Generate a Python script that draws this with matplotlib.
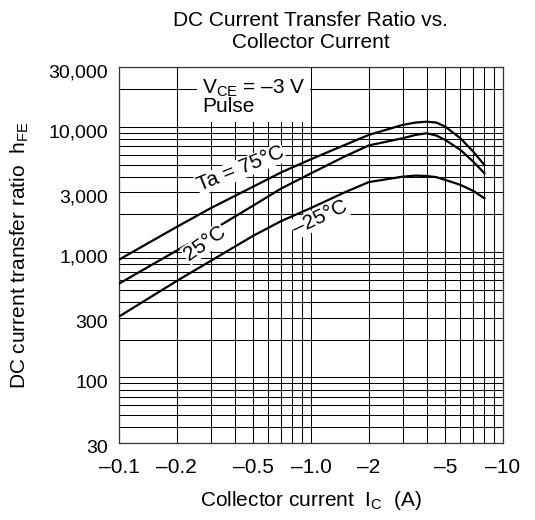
import numpy as np
import matplotlib
matplotlib.use('Agg')
import matplotlib.pyplot as plt
from matplotlib.patches import Rectangle
from matplotlib.transforms import ScaledTranslation

plt.rcParams['font.family'] = ['Liberation Sans', 'DejaVu Sans']
plt.rcParams['font.size'] = 15
plt.rcParams['mathtext.fontset'] = 'custom'
plt.rcParams['mathtext.rm'] = 'Liberation Sans'

# collector current magnitude (A)
ic = [0.1, 0.2, 0.3, 0.5, 0.7, 1.0, 1.5, 2.0, 3.0, 3.5, 4.0, 4.5, 5.0, 6.0, 7.0, 8.0]
hfe_75 = [870, 1590, 2240, 3330, 4330, 5510, 7160, 8610, 10350, 10800, 10980, 10800, 10030, 8100, 6330, 4960]
hfe_25 = [560, 1030, 1470, 2350, 3220, 4250, 5800, 7100, 8100, 8610, 8880, 8510, 7860, 6540, 5270, 4260]
hfe_m25 = [306, 589, 850, 1350, 1770, 2250, 3000, 3620, 4000, 4077, 4050, 3960, 3770, 3440, 3080, 2690]

xticks = [0.1, 0.2, 0.5, 1.0, 2, 5, 10]
xticklabels = ['–0.1', '–0.2', '–0.5', '–1.0', '–2', '–5', '–10']
yticks = [30, 100, 300, 1000, 3000, 10000, 30000]
yticklabels = ['30', '100', '300', '1,000', '3,000', '10,000', '30,000']

fig = plt.figure(figsize=(5.35, 5.2), dpi=100)
ax = fig.add_axes([0.2224, 0.1481, 0.7178, 0.7231])

ax.set_xscale('log')
ax.set_yscale('log')
ax.set_xlim(0.1, 10)
ax.set_ylim(30, 30000)

ax.set_xticks(xticks)
ax.set_xticklabels(xticklabels)
ax.set_yticks(yticks)
ax.set_yticklabels(yticklabels, fontsize=14)
ax.xaxis.set_minor_locator(matplotlib.ticker.LogLocator(base=10, subs=np.arange(1, 10)))
ax.yaxis.set_minor_locator(matplotlib.ticker.LogLocator(base=10, subs=np.arange(1, 10)))
ax.xaxis.set_minor_formatter(matplotlib.ticker.NullFormatter())
ax.yaxis.set_minor_formatter(matplotlib.ticker.NullFormatter())
ax.tick_params(which='both', length=0)
ax.tick_params(axis='x', pad=11)
ax.tick_params(axis='y', pad=8)
ax.grid(True, which='both', color='black', lw=0.75)
for s in ax.spines.values():
    s.set_linewidth(0.9)
    s.set_color('#333333')

off = ScaledTranslation(0, -4 / 100, fig.dpi_scale_trans)
for lab in ax.get_yticklabels():
    lab.set_transform(lab.get_transform() + off)

ax.plot(ic, hfe_75, color='black', lw=1.6, zorder=3)
ax.plot(ic, hfe_25, color='black', lw=1.6, zorder=3)
ax.plot(ic, hfe_m25, color='black', lw=1.6, zorder=3)

box = dict(facecolor='white', edgecolor='none', pad=0.5)
ax.text(0.43, 4600, 'Ta = 75°C', rotation=22, ha='center', va='center', bbox=box, zorder=4)
ax.text(0.28, 1170, '25°C', rotation=35, ha='center', va='center', bbox=box, zorder=4)
ax.text(1.11, 1875, '–25°C', rotation=25, ha='center', va='center', bbox=box, zorder=4)

# white patch behind the test condition note
ax.add_patch(Rectangle((0.203, 0.854), 0.294, 0.146, transform=ax.transAxes,
                       facecolor='white', edgecolor='none', zorder=2.5))
ax.text(0.27, 18600, 'V$_\\mathregular{CE}$ = –3 V', ha='left', va='baseline', zorder=4)
ax.text(0.27, 13100, 'Pulse', ha='left', va='baseline', zorder=4)

fig.text(0.581, 0.939, 'DC Current Transfer Ratio vs.\nCollector Current',
         ha='center', va='center', linespacing=1.2)

ax.set_xlabel('Collector current  I$_\\mathregular{C}$  (A)')
ax.xaxis.set_label_coords(0.5, -0.122)
ax.set_ylabel('DC current transfer ratio  h$_\\mathregular{FE}$')
ax.yaxis.set_label_coords(-0.229, 0.5)

fig.savefig('out.png', dpi=100)
